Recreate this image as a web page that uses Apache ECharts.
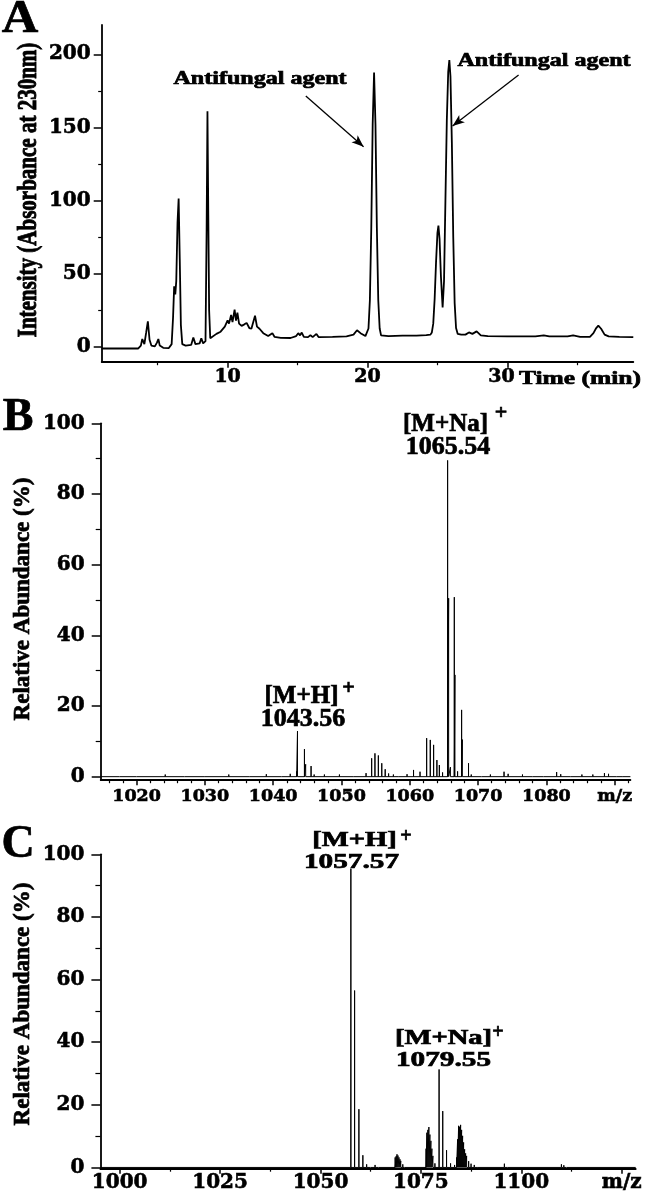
<!DOCTYPE html>
<html><head><meta charset="utf-8">
<script src="https://cdn.jsdelivr.net/npm/echarts@6/dist/echarts.min.js"></script>
<style>html,body{margin:0;padding:0;background:#fff}#c{width:650px;height:1193px}</style>
</head><body><div id="c"></div>
<script>
// ---------- Panel A : HPLC chromatogram ----------
const timeA = [1.0,3.6,3.8,3.9,4.05,4.18,4.3,4.42,4.55,4.8,4.95,5.05,5.15,5.4,5.8,6.0,6.1,6.18,6.26,6.33,6.42,6.5,6.58,6.66,6.76,7.0,7.4,7.55,7.7,8.0,8.12,8.25,8.42,8.5,8.56,8.62,8.68,8.76,8.9,9.2,9.5,9.8,10.0,10.1,10.25,10.35,10.5,10.6,10.7,10.82,11.0,11.2,11.36,11.55,11.7,11.96,12.1,12.28,12.4,12.55,12.9,13.2,13.35,13.8,14.5,14.9,15.05,15.18,15.3,15.45,15.75,15.92,16.08,16.35,16.5,17.5,18.5,19.0,19.25,19.5,19.85,19.97,20.07,20.17,20.27,20.37,20.47,20.57,20.67,20.77,20.87,20.97,21.5,22.5,23.5,24.2,24.5,24.6,24.7,24.8,24.9,25.0,25.07,25.15,25.25,25.37,25.47,25.57,25.67,25.77,25.85,25.93,26.03,26.13,26.23,26.33,26.45,26.7,27.0,27.25,27.5,27.8,28.1,28.6,30.0,32.0,32.6,33.0,34.3,34.7,35.2,35.9,36.15,36.35,36.5,36.7,36.95,37.24,38.0,39.0];
const intensityA = [-1,-1,1,5.5,2,10,17.5,5,1,0.5,3,5.5,1,-0.5,-0.7,2,20,41.5,36,45,85,101.5,60,15,2,1,1.5,6.5,2,2.5,6,2.5,4,80,161,90,25,6,5.5,9,10.5,14,18.3,16,21.9,17,25.5,18,23.5,16,14.5,15.5,16.5,13,12.5,21.4,14,12.5,13.2,9.5,7.5,9.5,7,6.3,6.2,7.5,9.5,8,9.9,7,6.8,8.2,6.8,9,6.8,7,7.3,8.5,11.5,9.5,7.5,8,12.7,32,81,152,187.5,152,81,32,12.7,8,7.5,7.8,7.8,8.2,8.5,10,16,33,58,78,83,74,48,27,45,100,155,188,196,185,140,75,30,13,9,8.5,8.5,10,9,10.7,8,7.5,7.3,7.3,8,7.3,7.3,8,7,7,9.5,13,14.6,12.5,8.5,7.3,7,6.8];
const xTicksA = [10,20,30];
const xMinorA = [5,15,25,35];
const yTicksA = [0,50,100,150,200];
const yMinorA = [25,75,125,175];
const arrowsA = [[[15.59,171.5],[19.72,136.9]], [[30.8,185.8],[26.08,151]]];

// ---------- Panel B : mass spectrum ----------
const mzB = [1017.5,1020,1024.2,1027,1030,1033.5,1036.5,1039,1041.2,1042.5,1043.44,1043.56,1044.58,1044.76,1045.55,1046.0,1047.5,1049.7,1051.8,1053.6,1054.42,1054.9,1055.4,1055.9,1056.4,1056.9,1057.6,1058.3,1059.6,1060.55,1061.5,1062.47,1063.0,1063.49,1063.97,1064.33,1064.8,1065.54,1065.69,1065.95,1066.52,1066.61,1067.0,1067.59,1067.69,1068.6,1069.0,1070.5,1071.8,1073.8,1074.4,1076.5,1078,1079.6,1081.5,1082.1,1083.5,1085.2,1086.8,1088.5,1089.1,1090.3,1091.2];
const abB = [0.4,0.3,0.6,0.4,0.5,0.6,0.5,0.7,0.5,0.8,1.5,12.9,7.8,3.5,3.0,0.6,0.6,0.6,0.5,1.0,5.2,6.6,6.0,3.8,2.1,0.9,0.6,0.5,0.7,1.9,1.4,10.9,10.4,9.0,4.7,3.3,1.2,89.5,50.5,2.7,50.8,28.8,1.5,18.9,10.5,3.8,0.6,0.5,0.6,1.4,0.8,0.6,0.5,0.5,1.3,0.7,0.5,0.6,0.6,1.0,0.8,0.5,0.4];
const xTicksB = [1020,1030,1040,1050,1060,1070,1080,1090];
const xMinorB = [1016,1018,1022,1024,1026,1028,1032,1034,1036,1038,1042,1044,1046,1048,1052,1054,1056,1058,1062,1064,1066,1068,1072,1074,1076,1078,1082,1084,1086,1088,1092];
const yTicksB = [0,20,40,60,80,100];
const yMinorB = [10,30,50,70,90];

// ---------- Panel C : mass spectrum ----------
const mzC = [1057.57,1058.5,1059.57,1060.56,1061.5,1062.5,1063.6,1064.5,1068.6,1068.85,1069.06,1069.3,1069.55,1069.8,1070.0,1070.5,1071.0,1076.3,1076.5,1076.75,1077.0,1077.25,1077.5,1077.75,1078.0,1078.5,1079.54,1080.45,1081.4,1082.4,1083.4,1083.9,1084.15,1084.4,1084.65,1084.9,1085.15,1085.4,1085.65,1085.9,1086.15,1086.4,1086.9,1087.5,1088.3,1089.0,1095.8,1096.5,1097.2,1110.0,1110.6,1111.3];
const abC = [95.4,56.5,18.6,3.9,1.0,0.6,0.8,0.4,3.2,3.6,4.2,3.8,3.2,2.6,2.1,1.0,0.4,6.0,11.1,12.0,12.9,10.5,8.5,6.0,3.7,1.3,31.3,18.0,5.5,1.3,0.8,3.2,9.0,13.3,13.0,13.6,12.0,10.1,8.0,5.8,4.5,3.7,2.0,1.2,0.8,0.5,1.2,0.6,0.5,1.0,0.7,0.5];
const xTicksC = [1000,1025,1050,1075,1100,1125];
const xMinorC = [1012.5,1037.5,1062.5,1087.5,1112.5];
const yTicksC = [0,20,40,60,80,100];
const yMinorC = [10,30,50,70,90];

const SERIF = "'Liberation Serif','Times New Roman',serif";
const DSERIF = "'DejaVu Serif',serif";
const BLACK = '#000';

function sticks(mz, ab, lo, hi) {
  const d = [[lo, 0]];
  mz.forEach((m, i) => { d.push([m, 0], [m, ab[i]], [m, 0]); });
  d.push([hi, 0]);
  return d;
}

function labelStyle(lab, major, fmt) {
  const s = { customValues: major, color: BLACK, fontFamily: lab.family, fontWeight: 'bold', fontSize: lab.size,
    margin: lab.margin, formatter: fmt, textBorderColor: BLACK, textBorderWidth: lab.border };
  if (lab.rich) s.rich = lab.rich;
  return s;
}
function xAxes(grid, min, max, major, minor, lab, fmt) {
  return [
    { gridIndex: grid, type: 'value', min, max, position: 'bottom',
      axisLine: { show: true, onZero: false, lineStyle: { color: BLACK, width: 1.8 } },
      axisTick: { show: true, customValues: major, length: lab.tick, lineStyle: { color: BLACK, width: 1.5 } },
      axisLabel: labelStyle(lab, major, fmt),
      splitLine: { show: false } },
    { gridIndex: grid, type: 'value', min, max, position: 'bottom',
      axisLine: { show: false, onZero: false },
      axisTick: { show: true, customValues: minor, length: lab.minor, lineStyle: { color: BLACK, width: 1.2 } },
      axisLabel: { show: false }, splitLine: { show: false } }
  ];
}
function yAxes(grid, min, max, major, minor, lab) {
  return [
    { gridIndex: grid, type: 'value', min, max, position: 'left',
      axisLine: { show: true, onZero: false, lineStyle: { color: BLACK, width: 1.8 } },
      axisTick: { show: true, customValues: major, length: lab.tick, lineStyle: { color: BLACK, width: 1.5 } },
      axisLabel: labelStyle(lab, major, v => String(v)),
      splitLine: { show: false } },
    { gridIndex: grid, type: 'value', min, max, position: 'left',
      axisLine: { show: false, onZero: false },
      axisTick: { show: true, customValues: minor, length: lab.minor, lineStyle: { color: BLACK, width: 1.2 } },
      axisLabel: { show: false }, splitLine: { show: false } }
  ];
}

const chart = echarts.init(document.getElementById('c'), null, { renderer: 'canvas' });

const labAx = { family: DSERIF, size: 19, margin: 6, tick: 6, minor: 3.5, border: 0.6,
  rich: { last: { fontFamily: DSERIF, fontWeight: 'bold', fontSize: 19, color: BLACK, textBorderColor: BLACK, textBorderWidth: 0.6, padding: [0, 12, 0, 0] } } };
const labAy = { family: DSERIF, size: 20, margin: 11, tick: 8, minor: 3.5, border: 0.6 };
const labBx = { family: DSERIF, size: 17.5, margin: 7, tick: 5, minor: 3, border: 0.6 };
const labBy = { family: DSERIF, size: 20, margin: 16, tick: 9, minor: 5, border: 0.6 };
const labCx = { family: DSERIF, size: 20, margin: 4, tick: 5, minor: 3, border: 0.6 };
const labCy = { family: DSERIF, size: 20, margin: 16, tick: 9, minor: 5, border: 0.6 };

const mzFmt = v => (v === 1090 || v === 1125) ? 'm/z' : String(v);
const timeFmt = v => v === 30 ? '{last|30}' : String(v);

function txt(text, x, y, size, extra, align) {
  return Object.assign({ type: 'text', x, y, silent: true,
    style: { text, fontFamily: SERIF, fontWeight: 'bold', fontSize: size, fill: BLACK, stroke: BLACK, lineWidth: 0.7,
      align: align || 'center', verticalAlign: 'middle' } }, extra || {});
}

const option = {
  animation: false,
  backgroundColor: '#fff',
  grid: [
    { left: 101.7, top: 25, width: 531.6, height: 336.7 },
    { left: 100.7, top: 423.3, width: 529.7, height: 356.9 },
    { left: 100.4, top: 854.3, width: 535.3, height: 315.3 }
  ],
  xAxis: [].concat(
    xAxes(0, 1, 39, xTicksA, xMinorA, labAx, timeFmt),
    xAxes(1, 1014.75, 1092.3, xTicksB, xMinorB, labBx, mzFmt),
    xAxes(2, 995.2, 1128.5, xTicksC, xMinorC, labCx, mzFmt)
  ),
  yAxis: [].concat(
    yAxes(0, -10, 220, yTicksA, yMinorA, labAy),
    yAxes(1, -1, 100, yTicksB, yMinorB, labBy),
    yAxes(2, -0.4, 100, yTicksC, yMinorC, labCy)
  ),
  series: [
    { type: 'line', xAxisIndex: 0, yAxisIndex: 0, showSymbol: false, smooth: false,
      lineStyle: { color: BLACK, width: 1.8 },
      data: timeA.map((t, i) => [t, intensityA[i]]),
      markLine: { silent: true, symbol: ['none', 'arrow'], symbolSize: [7, 12], label: { show: false },
        lineStyle: { color: BLACK, width: 1.3, type: 'solid' },
        data: arrowsA.map(a => [{ coord: a[0] }, { coord: a[1] }]) } },
    { type: 'line', xAxisIndex: 2, yAxisIndex: 2, showSymbol: false,
      lineStyle: { color: BLACK, width: 1 }, data: sticks(mzB, abB, 1014.75, 1092.3) },
    { type: 'line', xAxisIndex: 4, yAxisIndex: 4, showSymbol: false,
      lineStyle: { color: BLACK, width: 1 }, data: sticks(mzC, abC, 995.2, 1128.5) }
  ],
  graphic: [
    txt('A', 20, 20, 46, { scaleX: 1.1 }),
    txt('Intensity (Absorbance at 230nm)', 29, 190, 21, { rotation: Math.PI / 2, scaleY: 1.3 }),
    txt('Antifungal agent', 260, 79, 18.5, { scaleX: 1.3 }),
    txt('Antifungal agent', 544, 61, 18.5, { scaleX: 1.3 }),
    txt('Time (min)', 519, 379, 19, { scaleX: 1.34 }, 'left'),
    txt('B', 18, 418, 46),
    txt('Relative Abundance (%)', 23, 599, 23, { rotation: Math.PI / 2 }),
    txt('[M+Na]', 445.5, 425, 25),
    txt('+', 501, 413, 22),
    txt('1065.54', 448, 447, 26),
    txt('[M+H]', 301.5, 697, 25),
    txt('+', 348.5, 688.5, 22),
    txt('1043.56', 303, 719, 26),
    txt('C', 18, 845, 46),
    txt('Relative Abundance (%)', 23, 1004, 23, { rotation: Math.PI / 2 }),
    txt('[M+H]', 354.5, 841, 21, { scaleX: 1.36 }),
    txt('+', 406, 837, 20),
    txt('1057.57', 351.5, 862.5, 22, { scaleX: 1.33 }),
    txt('[M+Na]', 443.5, 1039, 21, { scaleX: 1.36 }),
    txt('+', 498, 1033, 20),
    txt('1079.55', 443.5, 1060.5, 22, { scaleX: 1.33 })
  ]
};
chart.setOption(option);
</script></body></html>
